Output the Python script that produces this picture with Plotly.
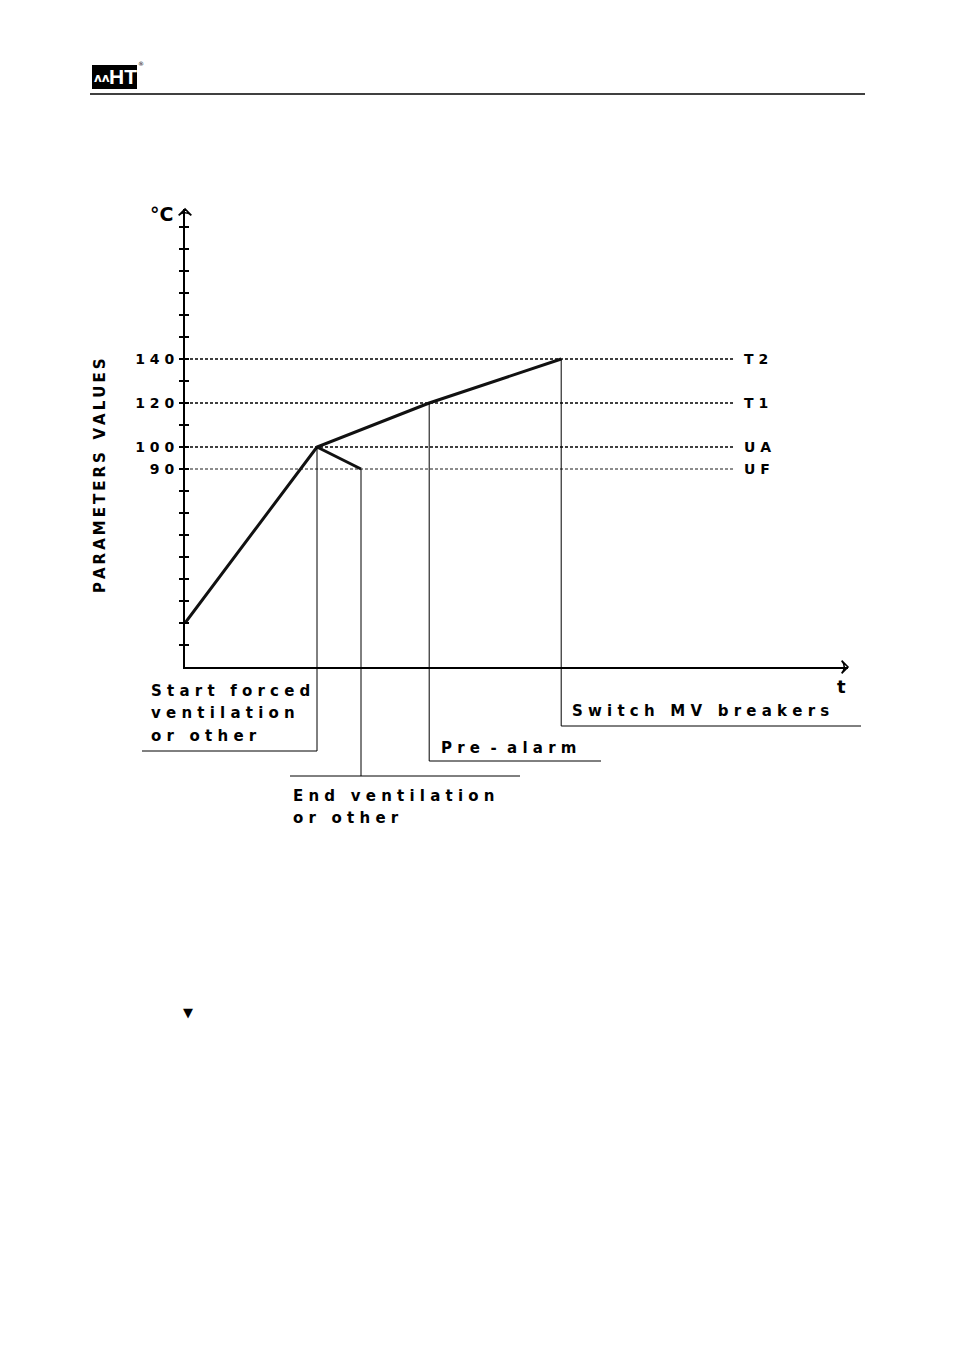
import plotly.graph_objects as go

PAGE_W, PAGE_H = 954, 1351
BODY = 8                      # default page body margin of the html page
W, H = PAGE_W - BODY, PAGE_H - BODY

# ---------------- data ----------------
t_rise = [0, 60, 111, 171]          # temperature rise (time units)
v_rise = [20, 100, 120, 140]        # °C
t_vent = [60, 80]                   # cooling after forced ventilation
v_vent = [100, 90]

thr_names = ["T2", "T1", "UA", "UF"]
thr_values = [140, 120, 100, 90]
thr_end_t = 250

ytick_vals = list(range(10, 201, 10))
ylabel_vals = [90, 100, 120, 140]

event_t = [60, 80, 111, 171]
event_v = [100, 90, 120, 140]
event_lines = [["Start forced", "ventilation", "or other"],
               ["End ventilation", "or other"],
               ["Pre - alarm"],
               ["Switch MV breakers"]]

# ---------------- layout geometry (page pixels) ----------------
S = 2.2            # px per unit (both axes)
OX, OY = 185, 667  # page pixel of origin
XEND, YTOP = 848, 209


def fx(px):   # page px -> figure paper fraction
    return (px - BODY) / W


def fy(py):
    return 1 - (py - BODY) / H


def dx(px):
    return (px - OX) / S


def dy(py):
    return (OY - py) / S


FONT = "DejaVu Sans"


def spaced(text, gap=" \u00a0 ", sep=" "):
    words = text.split(" ")
    return gap.join(sep.join(list(w)) for w in words)


fig = go.Figure()

# threshold dotted lines
thr_width = [1.3, 1.3, 1.3, 0.9]
for val, w in zip(thr_values, thr_width):
    fig.add_trace(go.Scatter(x=[0, thr_end_t], y=[val, val], mode="lines",
                             line=dict(color="black", width=w, dash="3px,2px"),
                             hoverinfo="skip", showlegend=False))

# temperature curve
fig.add_trace(go.Scatter(x=t_rise, y=v_rise, mode="lines",
                         line=dict(color="#111", width=3), showlegend=False))
fig.add_trace(go.Scatter(x=t_vent, y=v_vent, mode="lines",
                         line=dict(color="#111", width=3), showlegend=False))

# axis arrowheads
fig.add_trace(go.Scatter(x=[0, dx(XEND)], y=[dy(YTOP), 0], mode="markers",
                         marker=dict(symbol="arrow-wide-open", size=9, angle=[0, 90],
                                     color="black", line=dict(color="black", width=1.6)),
                         cliponaxis=False, hoverinfo="skip", showlegend=False))

# leader lines for the event callouts (full-page overlay axes, same scale)
leader_py = [751, 776, 761, 726]
leader_h = [(dx(142), None), (dx(290), dx(520)), (None, dx(601)), (None, dx(861))]
lx, ly = [], []
for t, v, lpy, (a, b) in zip(event_t, event_v, leader_py, leader_h):
    yl = dy(lpy)
    lx += [t, t, None]
    ly += [v, yl, None]
    x0 = t if a is None else a
    x1 = t if b is None else b
    lx += [x0, x1, None]
    ly += [yl, yl, None]
fig.add_trace(go.Scatter(x=lx, y=ly, mode="lines", xaxis="x2", yaxis="y2",
                         line=dict(color="black", width=1), hoverinfo="skip",
                         showlegend=False))

# y ticks crossing the axis: outside ticks on y, inside ticks on y3
fig.add_trace(go.Scatter(x=[None], y=[None], yaxis="y3", showlegend=False))

ann = []


def page_text(px, py, text, size=15, xanchor="left", angle=0, family=FONT,
              color="black", bold=True):
    ann.append(dict(x=fx(px), y=fy(py), xref="paper", yref="paper",
                    text=("<b>%s</b>" % text) if bold else text, showarrow=False,
                    xanchor=xanchor, yanchor="middle", textangle=angle,
                    font=dict(family=family, size=size, color=color)))


# callout texts
text_pos = [(149, [691, 713, 736]), (291, [796, 818]), (439, [748]), (570, [711])]
for lines, (px, pys) in zip(event_lines, text_pos):
    gap = " \u00a0" if "-" in lines[0] else " \u00a0 "
    for line, py in zip(lines, pys):
        page_text(px, py, spaced(line, gap), size=15)

# threshold names at right
for name, val in zip(thr_names, thr_values):
    ann.append(dict(x=thr_end_t, y=val, xref="x", yref="y", text="<b>%s</b>" % spaced(name),
                    showarrow=False, xanchor="left", yanchor="middle", xshift=7,
                    font=dict(family=FONT, size=14, color="black")))

page_text(161, 214, "°C", size=19, xanchor="center")
page_text(841, 686, "t", size=18, xanchor="center")
page_text(100, 476, spaced("PARAMETERS VALUES", gap="\u2002 ", sep="\u2009"),
          size=15, xanchor="center", angle=-90)

# header logo
page_text(123, 77, "HT", size=21, xanchor="center", family="Liberation Sans", color="white")
page_text(102, 78, "ʌʌ", size=12, xanchor="center", color="white")
page_text(141, 63, "®", size=6, xanchor="center", bold=False)
page_text(188, 1012, "▼", size=13, xanchor="center", bold=False)

shapes = [
    dict(type="rect", xref="paper", yref="paper", x0=fx(92), x1=fx(137),
         y0=fy(89), y1=fy(65), fillcolor="black", line=dict(width=0), layer="below"),
    dict(type="line", xref="paper", yref="paper", x0=fx(90), x1=fx(865),
         y0=fy(94), y1=fy(94), line=dict(color="black", width=1.5)),
]

ticktext = ["<b>%s</b>" % spaced(str(v)) if v in ylabel_vals else "" for v in ytick_vals]

fig.update_layout(
    width=W, height=H, margin=dict(l=0, r=0, t=0, b=0),
    paper_bgcolor="white", plot_bgcolor="rgba(0,0,0,0)",
    showlegend=False, annotations=ann, shapes=shapes,
    xaxis=dict(domain=[fx(OX), fx(XEND)], range=[0, dx(XEND)], showline=True,
               linecolor="black", linewidth=2, showgrid=False, zeroline=False,
               ticks="", showticklabels=False, anchor="y", fixedrange=True),
    yaxis=dict(domain=[fy(OY), fy(YTOP)], range=[0, dy(YTOP)], showline=True,
               linecolor="black", linewidth=2, showgrid=False, zeroline=False,
               ticks="outside", ticklen=4, tickwidth=1.5, tickcolor="black",
               tickvals=ytick_vals, ticktext=ticktext, ticklabelstandoff=2,
               tickfont=dict(family=FONT, size=14, color="black"), anchor="x"),
    yaxis3=dict(domain=[fy(OY), fy(YTOP)], range=[0, dy(YTOP)], overlaying="y",
                anchor="x", side="left", showline=False, showgrid=False, zeroline=False,
                ticks="inside", ticklen=4, tickwidth=1.5, tickcolor="black",
                tickvals=ytick_vals, showticklabels=False),
    xaxis2=dict(domain=[0, 1], range=[dx(BODY), dx(PAGE_W)], visible=False, anchor="y2"),
    yaxis2=dict(domain=[0, 1], range=[dy(PAGE_H), dy(BODY)], visible=False, anchor="x2"),
)

fig.write_html("out.html")
